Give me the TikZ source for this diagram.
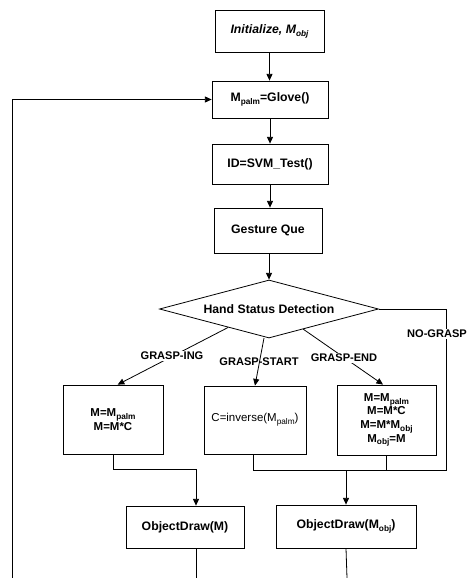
\documentclass[tikz,border=0pt]{standalone}
\usepackage{fontspec}
\setmainfont{Liberation Sans}
\usetikzlibrary{arrows.meta,shapes.geometric}
\newcommand\dn[1]{\raisebox{-0.45ex}{\fontsize{6.2}{7}\selectfont #1}}
\tikzset{
  box/.style={draw, line width=0.6pt, inner sep=0pt, align=center,
    font=\fontsize{9.2}{11}\selectfont\bfseries},
  lbox/.style={draw, line width=0.6pt, inner sep=0pt, align=center,
    font=\fontsize{8.6}{10.2}\selectfont\bfseries},
  lab/.style={inner sep=1pt, font=\fontsize{8.3}{10}\selectfont\bfseries},
  conn/.style={line width=0.6pt},
  arr/.style={line width=0.6pt, -{Triangle[length=5pt,width=4.5pt]}},
}
\begin{document}
\begin{tikzpicture}[x=0.75pt, y=-0.75pt]
\useasboundingbox (0,0) rectangle (474,578);
% main column
\node[box, minimum width=81.75pt, minimum height=31.5pt] (init) at (269.5,31) {\itshape Initialize, M\dn{obj}};
\node[box, minimum width=87pt, minimum height=27.75pt] (glove) at (270,99.5) {M\dn{palm}=Glove()};
\node[box, minimum width=87pt, minimum height=30pt] (svm) at (270,164) {ID=SVM\_Test()};
\node[box, minimum width=81pt, minimum height=33.75pt] (gest) at (268,230.5) {Gesture Que};
\node[draw, line width=0.6pt, diamond, aspect=3.78, inner sep=0pt,
      minimum width=164.25pt, minimum height=43.5pt,
      font=\fontsize{9.2}{11}\selectfont\bfseries] (dia) at (269,309) {Hand Status Detection};
% lower boxes
\node[lbox, minimum width=75pt, minimum height=51.75pt] (ing) at (113,419.5) {M=M\dn{palm}\\M=M*C};
\node[lbox, font=\fontsize{8.6}{10.2}\selectfont, minimum width=76.5pt, minimum height=51pt] (start) at (255,420) {C=inverse(M\dn{palm})};
\node[lbox, minimum width=74.25pt, minimum height=52.5pt] (end) at (386.5,420) {M=M\dn{palm}\\M=M*C\\M=M*M\dn{obj}\\M\dn{obj}=M};
\node[box, minimum width=88.5pt, minimum height=31.5pt] (odM) at (185,527) {ObjectDraw(M)};
\node[box, minimum width=105pt, minimum height=32.25pt] (odO) at (346,526.5) {ObjectDraw(M\dn{obj})};
% coordinates
\coordinate (loopB) at (12,578);
\coordinate (ingA) at (228,327.5);
\coordinate (endA) at (303,329);
\coordinate (noR) at (446,309);
\coordinate (noB) at (446,470);
\coordinate (mergeL) at (253,470);
\coordinate (leftJ) at (113,469);
\coordinate (leftK) at (196,469);
\coordinate (odMB) at (196,578);
\coordinate (odOB) at (347,578);
\coordinate (startA) at (264,338);
% connectors
\draw[arr] (init.south) -- (init.south |- glove.north);
\draw[arr] (glove.south) -- (glove.south |- svm.north);
\draw[arr] (svm.south) -- (svm.south |- gest.north);
\draw[arr] (gest.south -| dia.north) -- (dia.north);
\draw[arr] (loopB) -- (loopB |- glove.west) -- (glove.west);
\draw[arr] (ingA) -- ([xshift=3.5pt]ing.north);
\draw[arr] (startA) -- (start.north);
\draw[arr] (endA) -- ([xshift=-2.6pt]end.north);
\draw[conn] (dia.east) -- (noR) -- (noB) -- (mergeL) -- (mergeL |- start.south);
\draw[conn] (end.south) -- (end.south |- noB);
\draw[arr] (odO.north |- noB) -- (odO.north);
\draw[conn] (ing.south) -- (leftJ) -- (leftK);
\draw[arr] (leftK) -- (leftK |- odM.north);
\draw[conn] (leftK |- odM.south) -- (odMB);
\draw[conn] (odO.south) -- (odOB);
% labels
\node[lab, fill=white] (lING) at (172,356) {GRASP-ING};
\node[lab] (lSTART) at (259,362) {GRASP-START};
\node[lab, fill=white] (lEND) at (344,358) {GRASP-END};
\node[lab, fill=white] (lNO) at (437,334) {NO-GRASP};
\end{tikzpicture}
\end{document}
